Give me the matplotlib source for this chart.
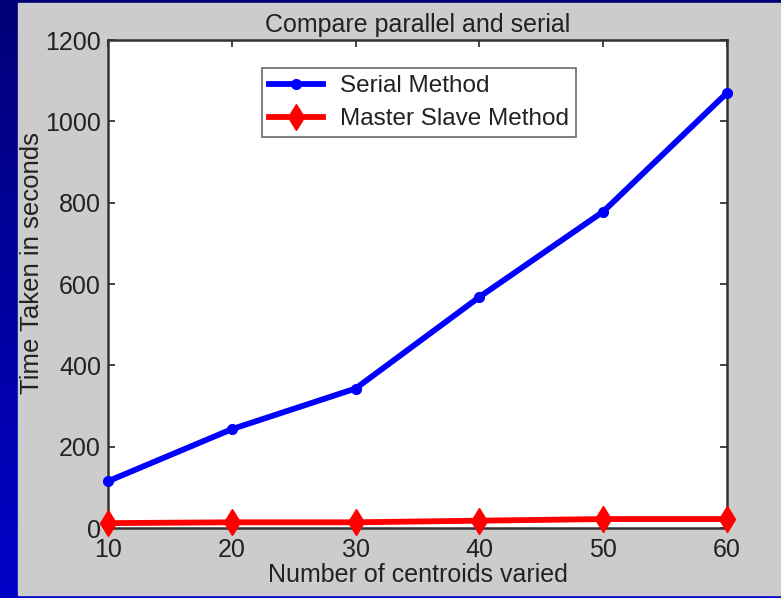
import numpy as np
import matplotlib.pyplot as plt
from matplotlib.patches import Rectangle

plt.rcParams['font.family'] = ['Liberation Sans', 'DejaVu Sans']

# data
centroids = [10, 20, 30, 40, 50, 60]
serial = [115, 243, 343, 568, 778, 1070]
master_slave = [12, 14, 14, 18, 22, 22]

fig = plt.figure(figsize=(7.81, 5.98), dpi=100)

# slide background: blue gradient with a gray panel
bg = fig.add_axes([0, 0, 1, 1], zorder=-10)
grad = np.linspace(0, 1, 256).reshape(-1, 1)
bg.imshow(grad, aspect='auto', extent=[0, 1, 0, 1], origin='upper',
          cmap=plt.matplotlib.colors.LinearSegmentedColormap.from_list(
              'bl', ['#000078', '#0000c8']))
bg.add_patch(Rectangle((18 / 781, 3 / 598), 1, 592 / 598, color='#cccccc'))
bg.set_xlim(0, 1)
bg.set_ylim(0, 1)
bg.axis('off')

ax = fig.add_axes([108 / 781, 70 / 598, 619 / 781, 488 / 598])
ax.plot(centroids, serial, color='#0000ff', lw=4.2, marker='o', ms=7,
        label='Serial Method', clip_on=False, zorder=3)
ax.plot(centroids, master_slave, color='#ff0000', lw=4.2, marker='d', ms=13,
        label='Master Slave Method', clip_on=False, zorder=3)

ax.set_xlim(10, 60)
ax.set_ylim(0, 1200)
ax.set_xticks(centroids)
ax.set_yticks(range(0, 1201, 200))
ax.tick_params(direction='in', length=5, width=1.2, labelsize=18,
               top=True, right=True, colors='#222222')
ax.tick_params(axis='x', pad=7)
ax.tick_params(axis='y', pad=5)
for s in ax.spines.values():
    s.set_linewidth(1.8)
    s.set_color('#333333')

ax.set_title('Compare parallel and serial', fontsize=18, color='#222222', pad=6)
ax.set_xlabel('Number of centroids varied', fontsize=18, color='#222222')
ax.xaxis.set_label_coords(0.5, -0.071)
ax.set_ylabel('Time Taken in seconds', fontsize=18.5, color='#222222')
ax.yaxis.set_label_coords(-0.123, 0.543)
ax.yaxis.label.set_va('center')

leg = ax.legend(loc='upper left', bbox_to_anchor=(0.249, 0.943), fontsize=17.5,
                frameon=True, fancybox=False, edgecolor='#444444',
                handlelength=2.2, borderpad=0.3, labelspacing=0.45,
                handletextpad=0.7, borderaxespad=0)
leg.get_frame().set_linewidth(1.2)
for t in leg.get_texts():
    t.set_color('#222222')

fig.savefig('out.png', dpi=100)
